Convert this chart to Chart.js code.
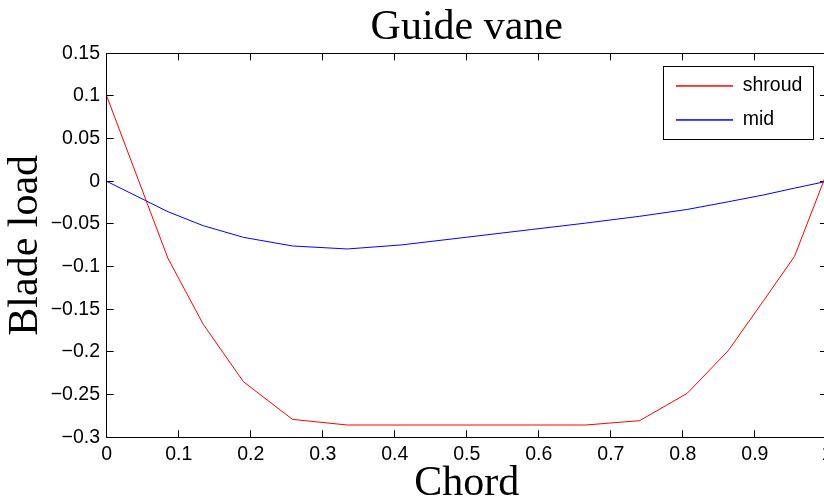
<!DOCTYPE html>
<html>
<head>
<meta charset="utf-8">
<title>Guide vane</title>
<script src="https://cdn.jsdelivr.net/npm/chart.js@4.4.1/dist/chart.umd.min.js"></script>
<style>
  html, body { margin: 0; padding: 0; overflow: hidden; background: #fff; }
  canvas { display: block; }
</style>
</head>
<body>
<canvas id="bladeChart" width="830" height="512"></canvas>
<script>
// Chord positions shared by both curves
const chord = [0, 0.085, 0.134, 0.19, 0.258, 0.334, 0.41, 0.5, 0.59, 0.665, 0.74, 0.806, 0.863, 0.912, 0.955, 1.0];
const shroudLoad = [0.1, -0.0902, -0.1675, -0.235, -0.279, -0.2856, -0.2856, -0.2856, -0.2856, -0.2856, -0.2805, -0.2485, -0.1985, -0.14, -0.088, 0.01];
const midLoad = [0, -0.0356, -0.052, -0.0657, -0.0758, -0.0793, -0.0745, -0.0655, -0.0565, -0.049, -0.041, -0.033, -0.024, -0.016, -0.008, 0];

// Tick values and labels
const xTickValues = [0, 0.1, 0.2, 0.3, 0.4, 0.5, 0.6, 0.7, 0.8, 0.9, 1];
const xTickLabels = ["0", "0.1", "0.2", "0.3", "0.4", "0.5", "0.6", "0.7", "0.8", "0.9", "1"];
const yTickValues = [-0.3, -0.25, -0.2, -0.15, -0.1, -0.05, 0, 0.05, 0.1, 0.15];
const yTickLabels = ["\u22120.3", "\u22120.25", "\u22120.2", "\u22120.15", "\u22120.1", "\u22120.05", "0", "0.05", "0.1", "0.15"];

const sansFont = "'Liberation Sans', Arial, Helvetica, sans-serif";
const serifFont = "'Liberation Serif', 'Times New Roman', serif";

function points(values) {
  return chord.map((c, i) => ({ x: c, y: values[i] }));
}

// fixed axis size, and no extra room for overflowing end labels
function fixSize(w, h) {
  return (s) => {
    if (w !== null) s.width = w;
    if (h !== null) s.height = h;
    s.paddingLeft = 0;
    s.paddingRight = 0;
    s.paddingTop = 0;
    s.paddingBottom = 0;
  };
}

// MATLAB style frame: black border, short ticks pointing inward
function frameAxis(position, extra) {
  return Object.assign({
    type: "linear",
    position: position,
    grid: { drawOnChartArea: false, drawTicks: true, tickLength: -7, color: "#000", lineWidth: 1 },
    border: { display: true, color: "#000", width: 1 }
  }, extra);
}

// Legend sits inside the plot, top right, with a box round it
const legendPlacement = {
  id: "legendPlacement",
  afterLayout(chart) {
    const lg = chart.legend;
    const area = chart.chartArea;
    lg.left = area.right - 165.4;
    lg.top = area.top + 8.4;
    lg.right = lg.left + lg.width;
    lg.bottom = lg.top + lg.height;
  },
  afterDraw(chart) {
    const lg = chart.legend;
    const ctx = chart.ctx;
    ctx.save();
    ctx.strokeStyle = "#000";
    ctx.lineWidth = 1;
    ctx.strokeRect(Math.round(lg.left + 1.2) + 0.5, Math.round(lg.top + 4) + 0.5, 150, 73);
    ctx.restore();
  }
};

const ctx = document.getElementById("bladeChart").getContext("2d");

new Chart(ctx, {
  type: "line",
  data: {
    datasets: [
      { label: "shroud", data: points(shroudLoad), borderColor: "#ff0000", backgroundColor: "#ff0000", borderWidth: 1, pointRadius: 0, tension: 0, fill: false },
      { label: "mid", data: points(midLoad), borderColor: "#0000ff", backgroundColor: "#0000ff", borderWidth: 1, pointRadius: 0, tension: 0, fill: false }
    ]
  },
  options: {
    responsive: false,
    animation: false,
    layout: { padding: 0 },
    plugins: {
      title: {
        display: true,
        text: "Guide vane",
        color: "#000",
        fullSize: false,
        font: { family: serifFont, size: 42, weight: "normal" },
        padding: { top: 2.3, bottom: 0.6 }
      },
      legend: {
        position: "chartArea",
        align: "start",
        labels: {
          color: "#000",
          font: { family: sansFont, size: 19.5 },
          boxWidth: 57,
          boxHeight: 0,
          padding: 14.5
        }
      },
      tooltip: { enabled: false }
    },
    scales: {
      x: frameAxis("bottom", {
        min: 0,
        max: 1,
        afterBuildTicks: (s) => { s.ticks = xTickValues.map((v) => ({ value: v })); },
        afterFit: fixSize(null, 74.7),
        ticks: {
          color: "#000",
          font: { family: sansFont, size: 19.5 },
          padding: 13,
          autoSkip: false,
          maxRotation: 0,
          callback: (v, i) => xTickLabels[i]
        },
        title: {
          display: true,
          text: "Chord",
          color: "#000",
          font: { family: serifFont, size: 42 },
          padding: { top: 0, bottom: 2.7 }
        }
      }),
      y: frameAxis("left", {
        min: -0.3,
        max: 0.15,
        afterBuildTicks: (s) => { s.ticks = yTickValues.map((v) => ({ value: v })); },
        afterFit: fixSize(106.7, null),
        ticks: {
          color: "#000",
          font: { family: sansFont, size: 19.5 },
          padding: 13.7,
          callback: (v, i) => yTickLabels[i]
        },
        title: {
          display: true,
          text: "Blade load",
          color: "#000",
          font: { family: serifFont, size: 42 },
          padding: { top: 0.6, bottom: 0 }
        }
      }),
      x2: frameAxis("top", {
        min: 0,
        max: 1,
        afterBuildTicks: (s) => { s.ticks = xTickValues.map((v) => ({ value: v })); },
        afterFit: fixSize(null, 0),
        ticks: { display: false }
      }),
      y2: frameAxis("right", {
        min: -0.3,
        max: 0.15,
        afterBuildTicks: (s) => { s.ticks = yTickValues.map((v) => ({ value: v })); },
        afterFit: fixSize(3.1, null),
        ticks: { display: false }
      })
    }
  },
  plugins: [legendPlacement]
});
</script>
</body>
</html>
